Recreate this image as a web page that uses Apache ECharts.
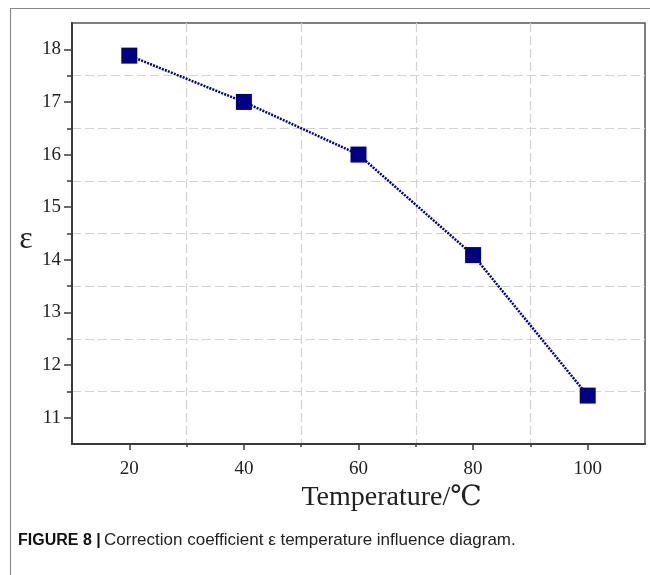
<!DOCTYPE html>
<html>
<head>
<meta charset="utf-8">
<script src="https://cdn.jsdelivr.net/npm/echarts@6/dist/echarts.min.js"></script>
<style>
html,body{margin:0;padding:0;background:#fff;}
#chart{width:650px;height:575px;}
</style>
</head>
<body>
<div id="chart"></div>
<script>
// Data
const temperatures = [20, 40, 60, 80, 100];
const epsilon = [17.88, 17.0, 16.0, 14.09, 11.42];
// Tick values
const xTicks = [20, 40, 60, 80, 100];
const xMinorTicks = [30, 50, 70, 90];
const yTicks = [11, 12, 13, 14, 15, 16, 17, 18];
const yMinorTicks = [11.5, 12.5, 13.5, 14.5, 15.5, 16.5, 17.5];

const serif = '"Liberation Serif", "DejaVu Serif", serif';
const axisColor = '#3a3a3a';
const gridDash = { color: '#d2d2d2', width: 1.2, type: [9, 4] };

const chart = echarts.init(document.getElementById('chart'), null, { renderer: 'canvas' });
chart.setOption({
  animation: false,
  backgroundColor: '#fff',
  grid: {
    left: 72, top: 23, right: 5, bottom: 131,
    show: true, borderColor: '#555', borderWidth: 1.5, backgroundColor: 'transparent'
  },
  xAxis: [
    {
      type: 'value', min: 10, max: 110, interval: 10, position: 'bottom',
      axisLine: { show: true, onZero: false, lineStyle: { color: axisColor, width: 2 } },
      axisTick: { show: true, customValues: xTicks, length: 6, lineStyle: { color: axisColor, width: 1.5 } },
      axisLabel: { customValues: xTicks, margin: 16, color: '#222', fontFamily: serif, fontSize: 19 },
      splitLine: { show: false },
      name: 'Temperature/℃', nameLocation: 'middle', nameGap: 39,
      nameTextStyle: { fontFamily: serif, fontSize: 28, color: '#222', padding: [0, 0, 0, 66] }
    },
    {
      type: 'value', min: 10, max: 110, interval: 20, position: 'bottom',
      axisLine: { show: false },
      axisTick: { show: true, customValues: xMinorTicks, length: 3, lineStyle: { color: axisColor, width: 1.5 } },
      axisLabel: { show: false },
      splitLine: { show: true, lineStyle: gridDash }
    }
  ],
  yAxis: [
    {
      type: 'value', min: 10.5, max: 18.5, interval: 0.5, position: 'left',
      axisLine: { show: true, onZero: false, lineStyle: { color: axisColor, width: 2 } },
      axisTick: { show: true, customValues: yTicks, length: 8, lineStyle: { color: axisColor, width: 1.5 } },
      axisLabel: { customValues: yTicks, margin: 11, color: '#222', fontFamily: serif, fontSize: 19 },
      splitLine: { show: false }
    },
    {
      type: 'value', min: 10.5, max: 18.5, interval: 1, position: 'left',
      axisLine: { show: false },
      axisTick: { show: true, customValues: yMinorTicks, length: 5, lineStyle: { color: axisColor, width: 1.5 } },
      axisLabel: { show: false },
      splitLine: { show: true, lineStyle: gridDash }
    }
  ],
  series: [{
    type: 'line',
    xAxisIndex: 0, yAxisIndex: 0,
    data: temperatures.map((t, i) => [t, epsilon[i]]),
    symbol: 'rect', symbolSize: 16,
    itemStyle: { color: '#000080' },
    lineStyle: { color: '#000080', width: 2.5, type: [2, 1.2] },
    z: 5
  }],
  graphic: [
    {
      type: 'rect', left: 8, top: 6, silent: true, z: -10,
      shape: { width: 660, height: 600 },
      style: { fill: 'none', stroke: '#8a8a8a', lineWidth: 1.2 }
    },
    {
      type: 'text', x: 26, y: 240,
      style: {
        text: 'ε', fontFamily: serif, fontSize: 32, fill: '#222',
        align: 'center', verticalAlign: 'middle'
      }
    },
    {
      type: 'text', left: 18, top: 532,
      style: {
        text: '{b|FIGURE 8 |} {n|Correction coefficient ε temperature influence diagram.}',
        rich: {
          b: { fontFamily: '"Liberation Sans", Arial, sans-serif', fontWeight: 'bold', fontSize: 16, fill: '#111' },
          n: { fontFamily: '"Liberation Sans", Arial, sans-serif', fontSize: 17, fill: '#222' }
        }
      }
    }
  ]
});
</script>
</body>
</html>
